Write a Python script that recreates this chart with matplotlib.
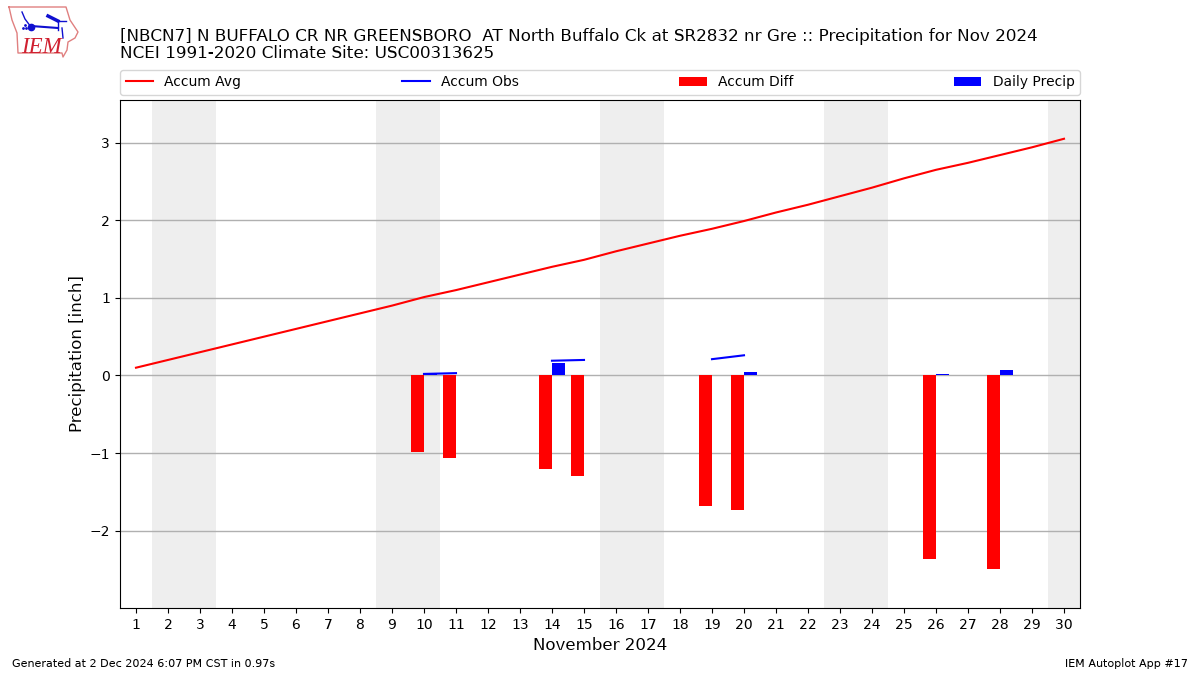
import numpy as np
import matplotlib
matplotlib.use("Agg")
import matplotlib.pyplot as plt

plt.rcParams["text.hinting"] = "default"

nan = np.nan

days = list(range(1, 31))
accum_avg = [0.10, 0.20, 0.30, 0.40, 0.50, 0.60, 0.70, 0.80, 0.90, 1.01,
             1.10, 1.20, 1.30, 1.40, 1.49, 1.60, 1.70, 1.80, 1.89, 1.99,
             2.10, 2.20, 2.31, 2.42, 2.54, 2.65, 2.74, 2.84, 2.94, 3.05]
accum_obs = [nan, nan, nan, nan, nan, nan, nan, nan, nan, 0.02,
             0.03, nan, nan, 0.19, 0.20, nan, nan, nan, 0.21, 0.26,
             nan, nan, nan, nan, nan, 0.29, nan, 0.35, nan, nan]
accum_diff = [nan, nan, nan, nan, nan, nan, nan, nan, nan, -0.99,
              -1.06, nan, nan, -1.21, -1.30, nan, nan, nan, -1.68, -1.73,
              nan, nan, nan, nan, nan, -2.36, nan, -2.49, nan, nan]
daily_precip = [nan, nan, nan, nan, nan, nan, nan, nan, nan, 0.02,
                0.01, nan, nan, 0.16, 0.01, nan, nan, nan, 0.01, 0.05,
                nan, nan, nan, nan, nan, 0.02, nan, 0.07, nan, nan]
weekend_days = [2, 3, 9, 10, 16, 17, 23, 24, 30]

title = ("[NBCN7] N BUFFALO CR NR GREENSBORO  AT North Buffalo Ck at SR2832 nr Gre"
         " :: Precipitation for Nov 2024\nNCEI 1991-2020 Climate Site: USC00313625")

fig = plt.figure(figsize=(12, 6.75), dpi=100)
ax = fig.add_axes([0.1, 0.0993, 0.8, 0.7526])

for d in weekend_days:
    ax.axvspan(d - 0.5, d + 0.5, color="#eeeeee", lw=0, zorder=0)

days_arr = np.array(days)
ax.plot(days, accum_avg, color="r", lw=1.5, label="Accum Avg", zorder=3)
ax.plot(days, accum_obs, color="b", lw=1.5, label="Accum Obs", zorder=3)
ax.bar(days_arr - 0.2, accum_diff, width=0.4, color="r", label="Accum Diff", zorder=2)
ax.bar(days_arr + 0.2, daily_precip, width=0.4, color="b", label="Daily Precip", zorder=2)

ax.set_xlim(0.5, 30.5)
ax.set_ylim(-2.996, 3.55)
ax.set_xticks(days)
ax.set_yticks([-2, -1, 0, 1, 2, 3])
ax.grid(axis="y", color="#b0b0b0", lw=1, zorder=1)
ax.set_axisbelow(True)
ax.tick_params(labelsize=10)
ax.set_xlabel("November 2024", fontsize=12)
ax.set_ylabel("Precipitation [inch]", fontsize=12, labelpad=2.5)

ax.legend(loc="lower left", bbox_to_anchor=(0, 1.01, 1, 0.05), ncol=4, mode="expand",
          borderaxespad=0, fontsize=10)

fig.text(0.1, 0.9075, title, fontsize=12.02, ha="left", va="bottom", linespacing=1.05)
fig.text(0.01, 0.0125, "Generated at 2 Dec 2024 6:07 PM CST in 0.97s", fontsize=8)
fig.text(0.99, 0.0125, "IEM Autoplot App #17", fontsize=8, ha="right")

# rough redraw of the IEM logo
logo = fig.add_axes([0, 0.9, 0.075, 0.1])
logo.set_xlim(0, 90)
logo.set_ylim(67.5, 0)
logo.axis("off")
iowa_x = [9, 66, 70, 78, 75, 68, 67, 63, 62, 18, 17, 12, 9]
iowa_y = [7, 7, 20, 32, 38, 42, 50, 57, 53, 53, 33, 20, 7]
logo.plot(iowa_x, iowa_y, color="#e08080", lw=1)
logo.plot([22, 25, 31], [12, 19, 27], color="#1010d0", lw=1)
logo.plot([31, 58], [26, 28], color="#1010d0", lw=1.5)
logo.plot([48, 58], [16, 21], color="#1010d0", lw=2.5)
logo.plot([58, 66], [21, 21], color="#1010d0", lw=1)
logo.plot([58, 58], [21, 30], color="#1010d0", lw=1)
logo.plot([62, 63], [28, 38], color="#1010d0", lw=1)
logo.plot([31], [27], "o", color="#1010d0", ms=4.5)
logo.plot([23, 26, 25], [28, 28, 25], ".", color="#1010d0", ms=2)
logo.text(21, 53, "IEM", family="Liberation Serif", style="italic", color="#d02030", fontsize=16.5)

fig.savefig("out.png", dpi=100)
